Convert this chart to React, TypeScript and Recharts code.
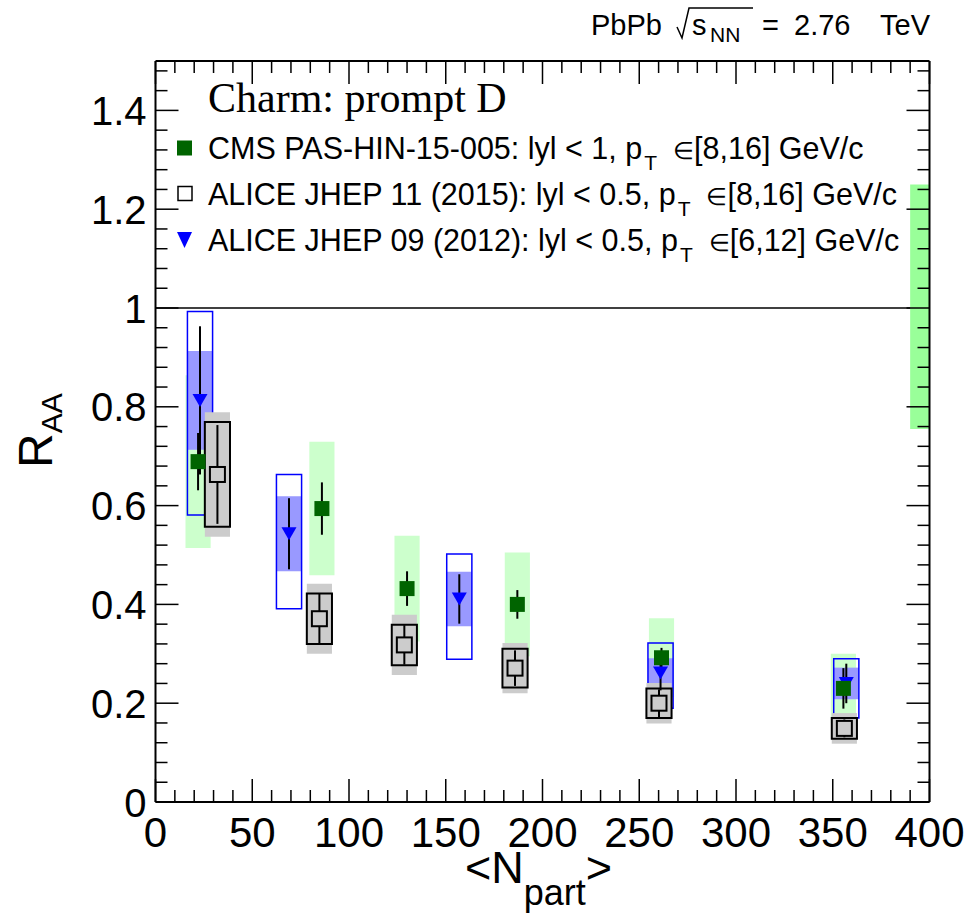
import React from 'react';
import {
  ComposedChart,
  XAxis,
  YAxis,
  Scatter,
  ErrorBar,
  ReferenceArea,
  ReferenceLine,
} from 'recharts';

// ---------------- data ----------------
// CMS PAS-HIN-15-005 (prompt D0), |y|<1, pT in [8,16] GeV/c
const cmsNpart = [22, 86, 130, 187, 261.5, 355.5];
const cmsRaa = [0.689, 0.594, 0.432, 0.4, 0.292, 0.23];
const cmsStat = [0.058, 0.053, 0.035, 0.029, 0.02, 0.041];
const cmsSyst = [0.175, 0.135, 0.107, 0.105, 0.08, 0.07];

// ALICE JHEP 11 (2015), |y|<0.5, pT in [8,16] GeV/c
const a15Npart = [32, 84.7, 128.6, 185.8, 260.2, 356];
const a15Raa = [0.663, 0.371, 0.318, 0.271, 0.2, 0.149];
const a15Stat = [0.1, 0.05, 0.04, 0.036, 0.028, 0.018];
const a15SystData = [0.106, 0.051, 0.041, 0.039, 0.03, 0.021];
const a15SystOther = [0.126, 0.071, 0.061, 0.051, 0.041, 0.031];

// ALICE JHEP 09 (2012), |y|<0.5, pT in [6,12] GeV/c
const a12Npart = [23, 69, 157, 261, 357];
const a12Raa = [0.813, 0.543, 0.411, 0.261, 0.24];
const a12Stat = [0.15, 0.072, 0.05, 0.035, 0.04];
const a12Syst = [0.1, 0.076, 0.055, 0.03, 0.032];
const a12SystLow = [0.581, 0.391, 0.289, 0.19, 0.17];
const a12SystHigh = [0.993, 0.663, 0.502, 0.322, 0.29];

// global normalisation uncertainty band (at unity)
const globalBandX = [390, 400];
const globalBandY = [0.755, 1.25];

// axes
const xMajor = [0, 50, 100, 150, 200, 250, 300, 350, 400];
const yMajor = [0, 0.2, 0.4, 0.6, 0.8, 1, 1.2, 1.4];
const yMajorLabels = ['0', '0.2', '0.4', '0.6', '0.8', '1', '1.2', '1.4'];
const xMinorStep = 10;
const yMinorStep = 0.04;

const boxHalfWidth = 6.5;

// ---------------- derived ----------------
const cmsPoints = cmsNpart.map((x, i) => ({ x, y: cmsRaa[i], err: cmsStat[i] }));
const a15Points = a15Npart.map((x, i) => ({ x, y: a15Raa[i], err: a15Stat[i] }));
const a12Points = a12Npart.map((x, i) => ({ x, y: a12Raa[i], err: a12Stat[i] }));

const xTicks: number[] = [];
for (let k = 0; k * xMinorStep <= 400 + 1e-9; k++) xTicks.push(k * xMinorStep);
const yTicks: number[] = [];
for (let k = 0; k * yMinorStep < 1.5 - 1e-9; k++) yTicks.push(Math.round(k * yMinorStep * 100) / 100);

const SANS = '"Liberation Sans", Arial, Helvetica, sans-serif';
const SERIF = '"Liberation Serif", "Times New Roman", serif';

const isXMajor = (v: number) => xMajor.some((m) => Math.abs(m - v) < 1e-6);
const yMajorIndex = (v: number) => yMajor.findIndex((m) => Math.abs(m - v) < 1e-6);

const MAJ = 23;
const MIN = 12;

const BottomTick = (props: any) => {
  const { x, y, payload } = props;
  const v = payload.value;
  const major = isXMajor(v);
  return (
    <g>
      <line x1={x} x2={x} y1={y} y2={y - (major ? MAJ : MIN)} stroke="#000" strokeWidth={1.5} />
      {major && (
        <text x={x} y={y + 45} textAnchor="middle" fontFamily={SANS} fontSize={42} fill="#000">
          {v}
        </text>
      )}
    </g>
  );
};

const TopTick = (props: any) => {
  const { x, y, payload } = props;
  const major = isXMajor(payload.value);
  return <line x1={x} x2={x} y1={y} y2={y + (major ? MAJ : MIN)} stroke="#000" strokeWidth={1.5} />;
};

const LeftTick = (props: any) => {
  const { x, y, payload } = props;
  const idx = yMajorIndex(payload.value);
  const major = idx >= 0;
  return (
    <g>
      <line x1={x} x2={x + (major ? MAJ : MIN)} y1={y} y2={y} stroke="#000" strokeWidth={1.5} />
      {major && (
        <text x={x - 9} y={y + 14.5} textAnchor="end" fontFamily={SANS} fontSize={40} fill="#000">
          {yMajorLabels[idx]}
        </text>
      )}
    </g>
  );
};

const RightTick = (props: any) => {
  const { x, y, payload } = props;
  const major = yMajorIndex(payload.value) >= 0;
  return <line x1={x} x2={x - (major ? MAJ : MIN)} y1={y} y2={y} stroke="#000" strokeWidth={1.5} />;
};

const CmsShape = (p: any) => (
  <rect x={p.cx - 7.5} y={p.cy - 7.5} width={15} height={15} fill="#006400" />
);
const A15Shape = (p: any) => (
  <rect x={p.cx - 7.5} y={p.cy - 7.5} width={15} height={15} fill="#cccccc" stroke="#000" strokeWidth={2} />
);
const A12Shape = (p: any) => (
  <polygon
    points={`${p.cx - 7.5},${p.cy - 6.5} ${p.cx + 7.5},${p.cy - 6.5} ${p.cx},${p.cy + 6.5}`}
    fill="#0000ff"
  />
);

export default function App() {
  return (
    <div style={{ position: 'absolute', left: 0, top: 0, width: 972, height: 914, background: '#fff' }}>
      <ComposedChart
        width={972}
        height={914}
        margin={{ top: 60, right: 41.5, bottom: 0, left: 0 }}
      >
        <XAxis
          xAxisId={0}
          type="number"
          dataKey="x"
          domain={[0, 400]}
          allowDataOverflow
          ticks={xTicks}
          interval={0}
          height={112}
          tickSize={0}
          tickMargin={0}
          tickLine={false}
          axisLine={{ stroke: '#000', strokeWidth: 2 }}
          tick={BottomTick}
        />
        <XAxis
          xAxisId="top"
          orientation="top"
          type="number"
          dataKey="x"
          domain={[0, 400]}
          allowDataOverflow
          ticks={xTicks}
          interval={0}
          height={1}
          tickSize={0}
          tickMargin={0}
          tickLine={false}
          axisLine={{ stroke: '#000', strokeWidth: 2 }}
          tick={TopTick}
        />
        <YAxis
          yAxisId={0}
          type="number"
          dataKey="y"
          domain={[0, 1.5]}
          allowDataOverflow
          ticks={yTicks}
          interval={0}
          width={155.5}
          tickSize={0}
          tickMargin={0}
          tickLine={false}
          axisLine={{ stroke: '#000', strokeWidth: 2 }}
          tick={LeftTick}
        />
        <YAxis
          yAxisId="right"
          orientation="right"
          type="number"
          dataKey="y"
          domain={[0, 1.5]}
          allowDataOverflow
          ticks={yTicks}
          interval={0}
          width={1}
          tickSize={0}
          tickMargin={0}
          tickLine={false}
          axisLine={{ stroke: '#000', strokeWidth: 2 }}
          tick={RightTick}
        />

        <ReferenceLine
          segment={[{ x: 0, y: 1 }, { x: globalBandX[0], y: 1 }]}
          stroke="#000"
          strokeWidth={1.5}
        />

        {cmsNpart.map((x, i) => (
          <ReferenceArea
            key={`cs${i}`}
            x1={x - boxHalfWidth}
            x2={x + boxHalfWidth}
            y1={cmsRaa[i] - cmsSyst[i]}
            y2={cmsRaa[i] + cmsSyst[i]}
            fill="#ccffcc"
            fillOpacity={1}
            stroke="none"
          />
        ))}
        <ReferenceArea
          x1={globalBandX[0]}
          x2={globalBandX[1]}
          y1={globalBandY[0]}
          y2={globalBandY[1]}
          fill="#99ff99"
          fillOpacity={1}
          stroke="none"
        />
        {a12Npart.map((x, i) => (
          <ReferenceArea
            key={`af${i}`}
            x1={x - boxHalfWidth}
            x2={x + boxHalfWidth}
            y1={a12Raa[i] - a12Syst[i]}
            y2={a12Raa[i] + a12Syst[i]}
            fill="#9999ff"
            fillOpacity={1}
            stroke="none"
          />
        ))}
        {a12Npart.map((x, i) => (
          <ReferenceArea
            key={`ao${i}`}
            x1={x - boxHalfWidth}
            x2={x + boxHalfWidth}
            y1={a12SystLow[i]}
            y2={a12SystHigh[i]}
            fill="none"
            stroke="#0000ff"
            strokeWidth={1.5}
          />
        ))}
        {a15Npart.map((x, i) => (
          <ReferenceArea
            key={`gf${i}`}
            x1={x - boxHalfWidth}
            x2={x + boxHalfWidth}
            y1={a15Raa[i] - a15SystOther[i]}
            y2={a15Raa[i] + a15SystOther[i]}
            fill="#cccccc"
            fillOpacity={1}
            stroke="none"
          />
        ))}
        {a15Npart.map((x, i) => (
          <ReferenceArea
            key={`go${i}`}
            x1={x - boxHalfWidth}
            x2={x + boxHalfWidth}
            y1={a15Raa[i] - a15SystData[i]}
            y2={a15Raa[i] + a15SystData[i]}
            fill="none"
            stroke="#000"
            strokeWidth={2}
          />
        ))}

        <Scatter data={a15Points} shape={A15Shape} isAnimationActive={false}>
          <ErrorBar dataKey="err" direction="y" width={0} stroke="#000" strokeWidth={2} />
        </Scatter>
        <Scatter data={a12Points} shape={A12Shape} isAnimationActive={false}>
          <ErrorBar dataKey="err" direction="y" width={0} stroke="#000" strokeWidth={2} />
        </Scatter>
        <Scatter data={cmsPoints} shape={CmsShape} isAnimationActive={false}>
          <ErrorBar dataKey="err" direction="y" width={0} stroke="#000" strokeWidth={2} />
        </Scatter>
      </ComposedChart>

      <svg
        width={972}
        height={914}
        style={{ position: 'absolute', left: 0, top: 0, pointerEvents: 'none' }}
      >
        {/* header */}
        <g fontFamily={SANS} fill="#000">
          <text x={591} y={35} fontSize={29}>PbPb</text>
          <polyline points="677,27 682,38 689,8 753,8" fill="none" stroke="#000" strokeWidth={1.5} />
          <text x={692} y={35} fontSize={29}>s</text>
          <text x={710} y={42} fontSize={21}>NN</text>
          <text x={762} y={35} fontSize={29}>=</text>
          <text x={794} y={35} fontSize={29}>2.76</text>
          <text x={880} y={35} fontSize={29}>TeV</text>
        </g>

        {/* legend */}
        <text x={208} y={112} fontFamily={SERIF} fontSize={42} fill="#000">Charm: prompt D</text>

        <rect x={177} y={140.5} width={15} height={15} fill="#006400" />
        <text x={208} y={159} fontFamily={SANS} fontSize={30.5} fill="#000">
          CMS PAS-HIN-15-005: lyl &lt; 1, p
          <tspan fontSize={21} dx={2} dy={11}>T</tspan>
          <tspan fontSize={24} dx={16} dy={-11}>∈</tspan>
          <tspan>[8,16] GeV/c</tspan>
        </text>

        <rect x={178} y={186.5} width={14} height={14} fill="#fff" stroke="#000" strokeWidth={1.5} />
        <text x={208} y={205} fontFamily={SANS} fontSize={30.5} fill="#000">
          ALICE JHEP 11 (2015): lyl &lt; 0.5, p
          <tspan fontSize={21} dx={2} dy={11}>T</tspan>
          <tspan fontSize={24} dx={16} dy={-11}>∈</tspan>
          <tspan>[8,16] GeV/c</tspan>
        </text>

        <polygon points="177,232 192,232 184.5,248" fill="#0000ff" />
        <text x={208} y={251} fontFamily={SANS} fontSize={30.5} fill="#000">
          ALICE JHEP 09 (2012): lyl &lt; 0.5, p
          <tspan fontSize={21} dx={2} dy={11}>T</tspan>
          <tspan fontSize={24} dx={16} dy={-11}>∈</tspan>
          <tspan>[6,12] GeV/c</tspan>
        </text>

        {/* axis titles */}
        <text transform="translate(52,468) rotate(-90)" fontFamily={SANS} fontSize={48} fill="#000">
          R<tspan fontSize={30} dy={10}>AA</tspan>
        </text>
        <text x={465} y={883} fontFamily={SANS} fontSize={45} fill="#000">
          &lt;N<tspan fontSize={36} dy={22}>part</tspan><tspan dy={-22}>&gt;</tspan>
        </text>
      </svg>
    </div>
  );
}
